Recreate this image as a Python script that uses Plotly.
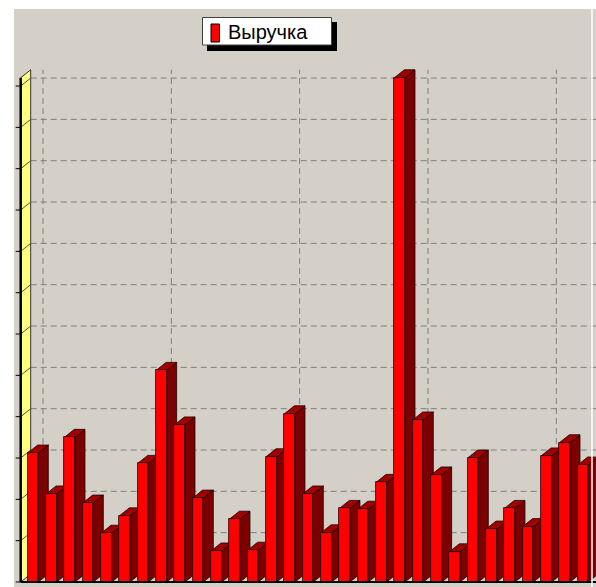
import plotly.graph_objects as go

# ---- data (units = one grid step) ----
days = list(range(1, 32))
revenue = [3.12, 2.13, 3.50, 1.91, 1.18, 1.60, 2.87, 5.12, 3.80, 2.03,
           0.75, 1.52, 0.77, 3.03, 4.07, 2.13, 1.19, 1.78, 1.76, 2.41,
           12.2, 3.92, 2.59, 0.73, 3.00, 1.28, 1.78, 1.34, 3.05, 3.37, 2.83]
series_name = "Выручка"
grid_values = list(range(0, 13))
vgrid_days = [1, 8, 15, 22, 29]
y_max = max(revenue)

# ---- geometry / style ----
OFF = 0              # page body margin removed by post_script
W, H = 596 - OFF, 587 - OFF
SX = 18.333          # px per category
SY = 41.33           # px per unit
X0 = 1 - (33 - OFF) / SX
X1 = X0 + W / SX
Y0 = -(587 - 582) / SY
Y1 = Y0 + H / SY
BW = 0.58            # bar width
DX = 10 / SX         # depth offset x
DY = 8 / SY          # depth offset y
AX = 1 - 12.3 / SX   # front y-axis position

BG = "#D4D0C8"
FRONT = "#FF0000"
SIDE = "#7C0000"
TOP = "#A00000"
EDGE = "#1a0000"
GRID = "#7E7E7E"
WALL = "#FFFF80"


def px(x):
    return (x - OFF) / W


def py(y):
    return 1 - (y - OFF) / H


fig = go.Figure()

# back wall gridlines (on back plane)
for k in grid_values[1:]:
    fig.add_trace(go.Scatter(x=[AX + DX, X1], y=[k + DY, k + DY], mode="lines",
                             line=dict(color=GRID, width=1, dash="6px,4px"),
                             hoverinfo="skip", showlegend=False))
for d in vgrid_days:
    fig.add_trace(go.Scatter(x=[d + DX, d + DX], y=[DY, y_max + DY], mode="lines",
                             line=dict(color=GRID, width=1, dash="6px,4px"),
                             hoverinfo="skip", showlegend=False))

# left yellow wall
fig.add_trace(go.Scatter(x=[AX, AX, AX + DX, AX + DX, AX],
                         y=[0, y_max, y_max + DY, DY, 0],
                         mode="lines", fill="toself", fillcolor=WALL,
                         line=dict(color="#333333", width=1),
                         hoverinfo="skip", showlegend=False))
# diagonal grid marks across the wall
wx, wy = [], []
for k in grid_values[1:]:
    wx += [AX, AX + DX, None]
    wy += [k, k + DY, None]
fig.add_trace(go.Scatter(x=wx, y=wy, mode="lines",
                         line=dict(color="#555555", width=1),
                         hoverinfo="skip", showlegend=False))
# tick marks left of axis
tx, ty = [], []
for k in grid_values:
    tx += [AX - 5 / SX, AX, None]
    ty += [k, k, None]
fig.add_trace(go.Scatter(x=tx, y=ty, mode="lines",
                         line=dict(color="#000000", width=1),
                         hoverinfo="skip", showlegend=False))

# side and top faces, derived from the values
sx, sy, tpx, tpy = [], [], [], []
for d, v in zip(days, revenue):
    xr = d + BW / 2
    xl = d - BW / 2
    sx += [xr, xr + DX, xr + DX, xr, xr, None]
    sy += [0, DY, v + DY, v, 0, None]
    tpx += [xl, xr, xr + DX, xl + DX, xl, None]
    tpy += [v, v, v + DY, v + DY, v, None]
fig.add_trace(go.Scatter(x=sx, y=sy, mode="lines", fill="toself", fillcolor=SIDE,
                         line=dict(color=EDGE, width=0.8),
                         hoverinfo="skip", showlegend=False))
fig.add_trace(go.Scatter(x=tpx, y=tpy, mode="lines", fill="toself", fillcolor=TOP,
                         line=dict(color=EDGE, width=0.8),
                         hoverinfo="skip", showlegend=False))

# front faces (on overlaying axes so they sit above the side faces)
fig.add_trace(go.Bar(x=days, y=revenue, width=BW, name=series_name,
                     marker=dict(color=FRONT, line=dict(color=EDGE, width=0.8)),
                     xaxis="x2", yaxis="y2", showlegend=False))

shapes = [
    # grey panel
    dict(type="rect", xref="paper", yref="paper", x0=px(14), x1=1, y0=0, y1=py(9),
         fillcolor=BG, line=dict(width=0), layer="below"),
    # front y axis line
    dict(type="line", xref="x", yref="y", x0=AX, x1=AX, y0=0, y1=y_max,
         line=dict(color="#000000", width=2.5), layer="above"),
    # baseline
    dict(type="line", xref="x", yref="y", x0=AX, x1=X1, y0=0, y1=0,
         line=dict(color="#000000", width=2), layer="above"),
    # right white border line
    dict(type="line", xref="paper", yref="paper", x0=px(592), x1=px(592), y0=0, y1=1,
         line=dict(color="#FFFFFF", width=1.5), layer="above"),
    # legend shadow
    dict(type="rect", xref="paper", yref="paper", x0=px(207), x1=px(337),
         y0=py(51), y1=py(22), fillcolor="#000000", line=dict(width=0), layer="above"),
    # legend box
    dict(type="rect", xref="paper", yref="paper", x0=px(202.5), x1=px(331.5),
         y0=py(45), y1=py(17.5), fillcolor="#FFFFFF",
         line=dict(color="#404040", width=1), layer="above"),
    # legend marker
    dict(type="rect", xref="paper", yref="paper", x0=px(211), x1=px(219.5),
         y0=py(42), y1=py(24), fillcolor=FRONT,
         line=dict(color="#000000", width=1), layer="above"),
]

fig.update_layout(
    width=W, height=H,
    margin=dict(l=0, r=0, t=0, b=0),
    paper_bgcolor="#FFFFFF",
    plot_bgcolor="rgba(0,0,0,0)",
    showlegend=False,
    bargap=0,
    xaxis=dict(range=[X0, X1], domain=[0, 1], visible=False, fixedrange=True),
    yaxis=dict(range=[Y0, Y1], domain=[0, 1], visible=False, fixedrange=True),
    xaxis2=dict(range=[X0, X1], overlaying="x", visible=False, fixedrange=True),
    yaxis2=dict(range=[Y0, Y1], overlaying="y", visible=False, fixedrange=True),
    shapes=shapes,
    annotations=[dict(text=series_name, xref="paper", yref="paper",
                      x=px(226), y=py(32), xanchor="left", yanchor="middle",
                      showarrow=False,
                      font=dict(family="Liberation Sans, Arial, sans-serif",
                                size=20, color="#000000"))],
)

fig.write_html("out.html", config={"displayModeBar": False},
               post_script="document.body.style.margin='0';"
                           "document.body.style.overflow='hidden';")
